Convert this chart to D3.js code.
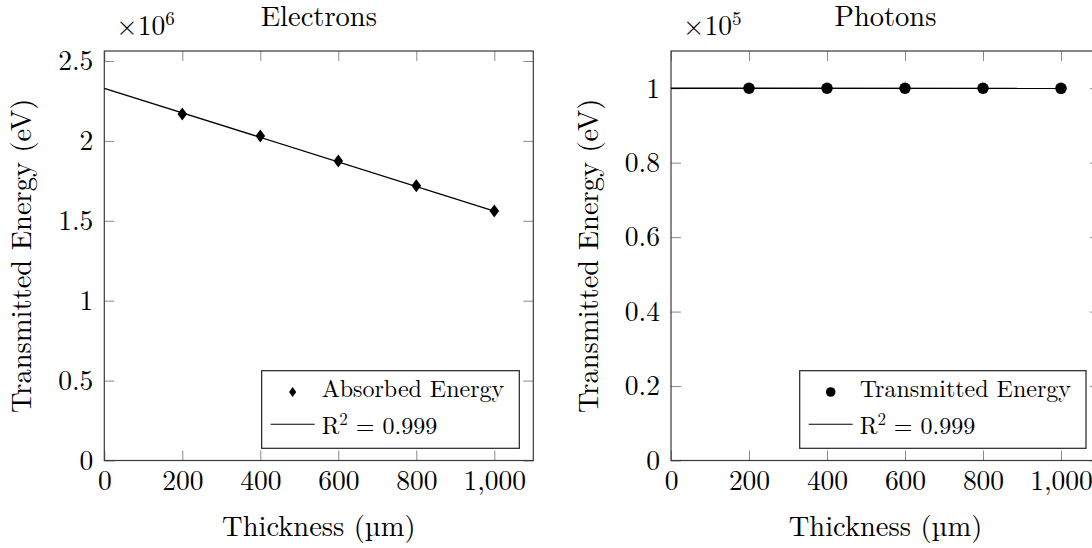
<!DOCTYPE html>
<html>
<head>
<meta charset="utf-8">
<script src="https://cdn.jsdelivr.net/npm/d3@7"></script>
<style>
  body { margin: 0; background: #fff; }
  svg { display: block; }
</style>
</head>
<body>
<div id="chart"></div>
<script>

// shared x data (thickness in um)
const thickness = [200, 400, 600, 800, 1000] ;
const xTicks = [0, 200, 400, 600, 800, 1000] ;
const xTickLabels = ["0", "200", "400", "600", "800", "1,000"] ;

// electrons panel
const electronEnergy = [2.168e6, 2.030e6, 1.874e6, 1.720e6, 1.561e6] ;
const electronFitX = [0, 1000] ;
const electronFitY = [2.329e6, 1.561e6] ;
const electronTicks = [0, 0.5e6, 1e6, 1.5e6, 2e6, 2.5e6] ;
const electronTickLabels = ["0", "0.5", "1", "1.5", "2", "2.5"] ;

// photons panel
const photonEnergy = [1.0e5, 1.0e5, 1.0e5, 0.9999e5, 0.9998e5] ;
const photonFitX = [0, 1000] ;
const photonFitY = [1.0e5, 0.9998e5] ;
const photonTicks = [0, 0.2e5, 0.4e5, 0.6e5, 0.8e5, 1e5] ;
const photonTickLabels = ["0", "0.2", "0.4", "0.6", "0.8", "1"] ;

const width = 1092 ;
const height = 548 ;
const fontFam = "'Latin Modern Roman', 'Liberation Serif', serif" ;
const tickFont = 27.5 ;
const labelFont = 28.5 ;
const legendFont = 24 ;

const svg = d3.select("#chart").append("svg")
	.attr("width", width)
	.attr("height", height) ;

function txt( sel, size ) {
	return sel.style("font-family", fontFam).style("font-size", size + "px").attr("fill", "#000") ;
}

function drawPanel( opts ) {
	const left = opts.left, top = 51, bottom = 460.5 ;
	const right = left + 429 ;

	const x = d3.scaleLinear().domain([0, 1100]).range([left, right]) ;
	const y = d3.scaleLinear().domain([0, opts.yMax]).range([bottom, top]) ;

	const g = svg.append("g") ;

	// inward ticks on all four sides
	const tickLen = 10 ;
	const axB = g.append("g")
		.attr("transform", "translate(0," + bottom + ")")
		.call( d3.axisBottom(x).tickValues(xTicks).tickSize(-tickLen).tickPadding(10)
			.tickFormat( function(d,i) { return xTickLabels[i] ; } ) ) ;
	const axT = g.append("g")
		.attr("transform", "translate(0," + top + ")")
		.call( d3.axisTop(x).tickValues(xTicks).tickSize(-tickLen).tickFormat("") ) ;
	const axL = g.append("g")
		.attr("transform", "translate(" + left + ",0)")
		.call( d3.axisLeft(y).tickValues(opts.yTicks).tickSize(-tickLen).tickPadding(11)
			.tickFormat( function(d,i) { return opts.yTickLabels[i] ; } ) ) ;
	const axR = g.append("g")
		.attr("transform", "translate(" + right + ",0)")
		.call( d3.axisRight(y).tickValues(opts.yTicks).tickSize(-tickLen).tickFormat("") ) ;

	[axB, axT, axL, axR].forEach( function(a) {
		a.attr("font-family", null).attr("font-size", null) ;
		a.select(".domain").remove() ;
		a.selectAll(".tick line").attr("stroke", "#8a8a8a").attr("stroke-width", 1) ;
		txt( a.selectAll(".tick text"), tickFont ) ;
	}) ;

	// frame
	g.append("rect")
		.attr("x", left).attr("y", top)
		.attr("width", right - left).attr("height", bottom - top)
		.attr("fill", "none").attr("stroke", "#3a3a3a").attr("stroke-width", 1.2) ;

	// fit line
	const line = d3.line().x( function(d) { return x(d[0]) ; } ).y( function(d) { return y(d[1]) ; } ) ;
	g.append("path")
		.datum( d3.zip( opts.fitX, opts.fitY ) )
		.attr("d", line)
		.attr("fill", "none").attr("stroke", "#000").attr("stroke-width", 1.3) ;

	// markers
	const pts = d3.zip( thickness, opts.values ) ;
	if( opts.marker === "diamond" ) {
		g.selectAll("path.mk").data(pts).enter().append("path")
			.attr("class", "mk")
			.attr("d", function(d) {
				const cx = x(d[0]), cy = y(d[1]) ;
				return "M" + cx + "," + (cy-6.5) + "L" + (cx+4.8) + "," + cy + "L" + cx + "," + (cy+6.5) + "L" + (cx-4.8) + "," + cy + "Z" ;
			})
			.attr("fill", "#000") ;
	} else {
		g.selectAll("circle.mk").data(pts).enter().append("circle")
			.attr("class", "mk")
			.attr("cx", function(d) { return x(d[0]) ; })
			.attr("cy", function(d) { return y(d[1]) ; })
			.attr("r", 5.8)
			.attr("fill", "#000") ;
	}

	// title
	txt( g.append("text"), labelFont )
		.attr("x", (left + right) / 2).attr("y", 26)
		.attr("text-anchor", "middle")
		.text( opts.title ) ;

	// scale factor label
	const sf = txt( g.append("text"), tickFont )
		.attr("x", left + 12).attr("y", 35) ;
	sf.append("tspan").text("\u00d710") ;
	sf.append("tspan").attr("dy", -10).style("font-size", "19px").text( opts.exponent ) ;

	// axis labels
	txt( g.append("text"), labelFont )
		.attr("x", (left + right) / 2).attr("y", 536)
		.attr("text-anchor", "middle")
		.text("Thickness (\u00b5m)") ;

	txt( g.append("text"), labelFont )
		.attr("transform", "translate(" + (left - 73) + "," + ((top + bottom) / 2) + ") rotate(-90)")
		.attr("text-anchor", "middle")
		.text("Transmitted Energy (eV)") ;

	// legend
	const leg = g.append("g") ;
	const legRight = right - 14, legTop = 370.7, legBottom = 448.3 ;
	const box = leg.append("rect")
		.attr("fill", "#fff").attr("stroke", "#222").attr("stroke-width", 1.2) ;
	const t1 = txt( leg.append("text"), legendFont )
		.attr("y", 397)
		.text( opts.legendName ) ;
	const t2 = txt( leg.append("text"), legendFont )
		.attr("y", 433.5) ;
	t2.append("tspan").text("R") ;
	t2.append("tspan").attr("dy", -9).style("font-size", "17px").text("2") ;
	t2.append("tspan").attr("dy", 9).text(" = 0.999") ;

	const tw = Math.max( t1.node().getComputedTextLength(), t2.node().getComputedTextLength() ) ;
	const legLeft = legRight - tw - 60 - 15 ;
	const textX = legLeft + 60 ;
	t1.attr("x", textX) ;
	t2.attr("x", textX) ;
	box.attr("x", legLeft).attr("y", legTop).attr("width", legRight - legLeft).attr("height", legBottom - legTop) ;

	const mx = legLeft + 31, my = 392 ;
	if( opts.marker === "diamond" ) {
		leg.append("path")
			.attr("d", "M" + mx + "," + (my-5) + "L" + (mx+3.6) + "," + my + "L" + mx + "," + (my+5) + "L" + (mx-3.6) + "," + my + "Z")
			.attr("fill", "#000") ;
	} else {
		leg.append("circle").attr("cx", mx).attr("cy", my).attr("r", 4.8).attr("fill", "#000") ;
	}
	leg.append("line")
		.attr("x1", legLeft + 9).attr("x2", legLeft + 53)
		.attr("y1", 424.3).attr("y2", 424.3)
		.attr("stroke", "#000").attr("stroke-width", 1.1) ;
}

drawPanel({
	left: 104.3,
	yMax: 2.5625e6,
	yTicks: electronTicks,
	yTickLabels: electronTickLabels,
	values: electronEnergy,
	fitX: electronFitX,
	fitY: electronFitY,
	marker: "diamond",
	title: "Electrons",
	exponent: "6",
	legendName: "Absorbed Energy"
}) ;

drawPanel({
	left: 671,
	yMax: 1.1e5,
	yTicks: photonTicks,
	yTickLabels: photonTickLabels,
	values: photonEnergy,
	fitX: photonFitX,
	fitY: photonFitY,
	marker: "circle",
	title: "Photons",
	exponent: "5",
	legendName: "Transmitted Energy"
}) ;

</script>
</body>
</html>
